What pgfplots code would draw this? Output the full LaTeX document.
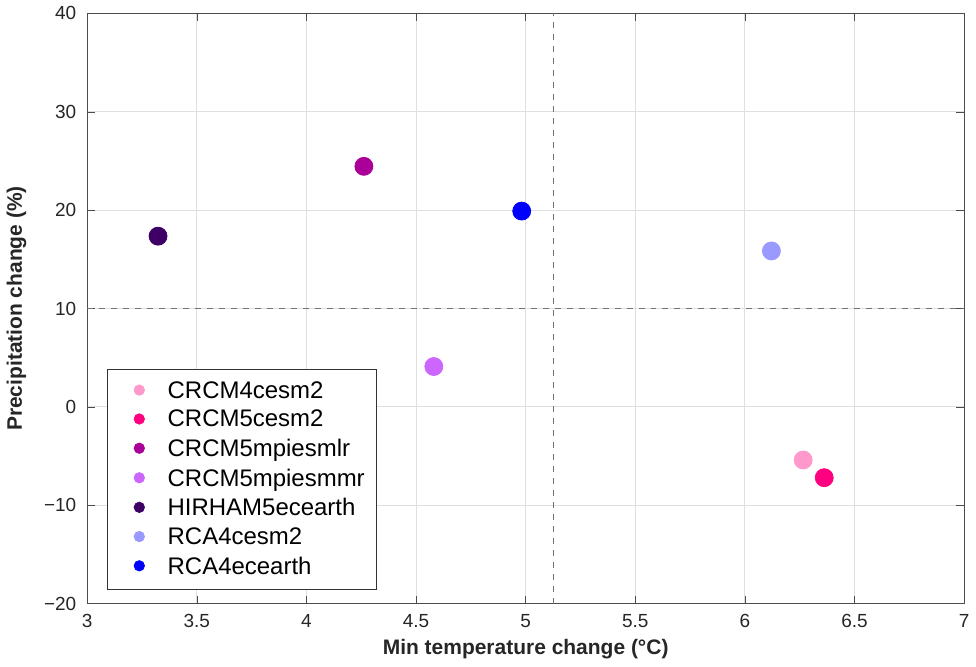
\documentclass[border=0pt]{standalone}
\usepackage{pgfplots}
\pgfplotsset{compat=1.18}
\usepackage{fontspec}
\setmainfont{Liberation Sans}
\definecolor{cA}{RGB}{255,153,204}
\definecolor{cB}{RGB}{255,0,128}
\definecolor{cC}{RGB}{170,0,153}
\definecolor{cD}{RGB}{204,102,255}
\definecolor{cE}{RGB}{63,0,102}
\definecolor{cF}{RGB}{153,153,255}
\definecolor{cG}{RGB}{0,0,255}
\begin{document}
\begin{tikzpicture}
\begin{axis}[
    scale only axis,
    width=439pt, height=295.5pt,
    xmin=3, xmax=7, ymin=-20, ymax=40,
    xtick={3,3.5,...,7}, ytick={-20,-10,...,40},
    yticklabels={−20,−10,0,10,20,30,40},
    xticklabel style={/pgf/number format/fixed},
    /pgf/number format/assume math mode=true,
    tick label style={font=\fontsize{9.5}{11}\selectfont, text=black!85},
    yticklabel style={xshift=-2pt},
    xticklabel style={yshift=-2pt},
    grid=major,
    major grid style={gray!25, line width=0.5pt},
    axis line style={black!70, line width=0.5pt},
    tick style={black!70},
    tick align=inside,
    major tick length=4pt,
    xlabel={\textbf{Min temperature change (°C)}},
    ylabel={\textbf{Precipitation change (\%)}},
    label style={font=\fontsize{10.5}{12}\selectfont, text=black!85},
    xlabel style={yshift=1pt},
    ylabel style={yshift=2pt},
    legend style={at={(0.022,0.024)}, anchor=south west, draw=black!80,
        font=\fontsize{12}{14}\selectfont, row sep=0.6pt,
        inner xsep=4pt, inner ysep=4pt},
    legend cell align=left,
    legend image code/.code={\path (0pt,0pt) (24pt,0pt); \fill[#1] (12pt,0.1ex) circle (2.6pt);},
    clip=false,
]
\addplot[gray!90!black, dashed, line width=0.6pt, forget plot] coordinates {(5.128,-20) (5.128,40)};
\addplot[gray!90!black, dashed, line width=0.6pt, forget plot] coordinates {(3,10) (7,10)};
\addplot[only marks, mark=*, mark size=4.5pt, cA, mark options={draw=cA, fill=cA}] coordinates {(6.266,-5.4)};
\addlegendentry{CRCM4cesm2}
\addplot[only marks, mark=*, mark size=4.5pt, cB, mark options={draw=cB, fill=cB}] coordinates {(6.362,-7.2)};
\addlegendentry{CRCM5cesm2}
\addplot[only marks, mark=*, mark size=4.5pt, cC, mark options={draw=cC, fill=cC}] coordinates {(4.262,24.45)};
\addlegendentry{CRCM5mpiesmlr}
\addplot[only marks, mark=*, mark size=4.5pt, cD, mark options={draw=cD, fill=cD}] coordinates {(4.581,4.1)};
\addlegendentry{CRCM5mpiesmmr}
\addplot[only marks, mark=*, mark size=4.5pt, cE, mark options={draw=cE, fill=cE}] coordinates {(3.323,17.35)};
\addlegendentry{HIRHAM5ecearth}
\addplot[only marks, mark=*, mark size=4.5pt, cF, mark options={draw=cF, fill=cF}] coordinates {(6.121,15.85)};
\addlegendentry{RCA4cesm2}
\addplot[only marks, mark=*, mark size=4.5pt, cG, mark options={draw=cG, fill=cG}] coordinates {(4.982,19.9)};
\addlegendentry{RCA4ecearth}
\end{axis}
\end{tikzpicture}
\end{document}
